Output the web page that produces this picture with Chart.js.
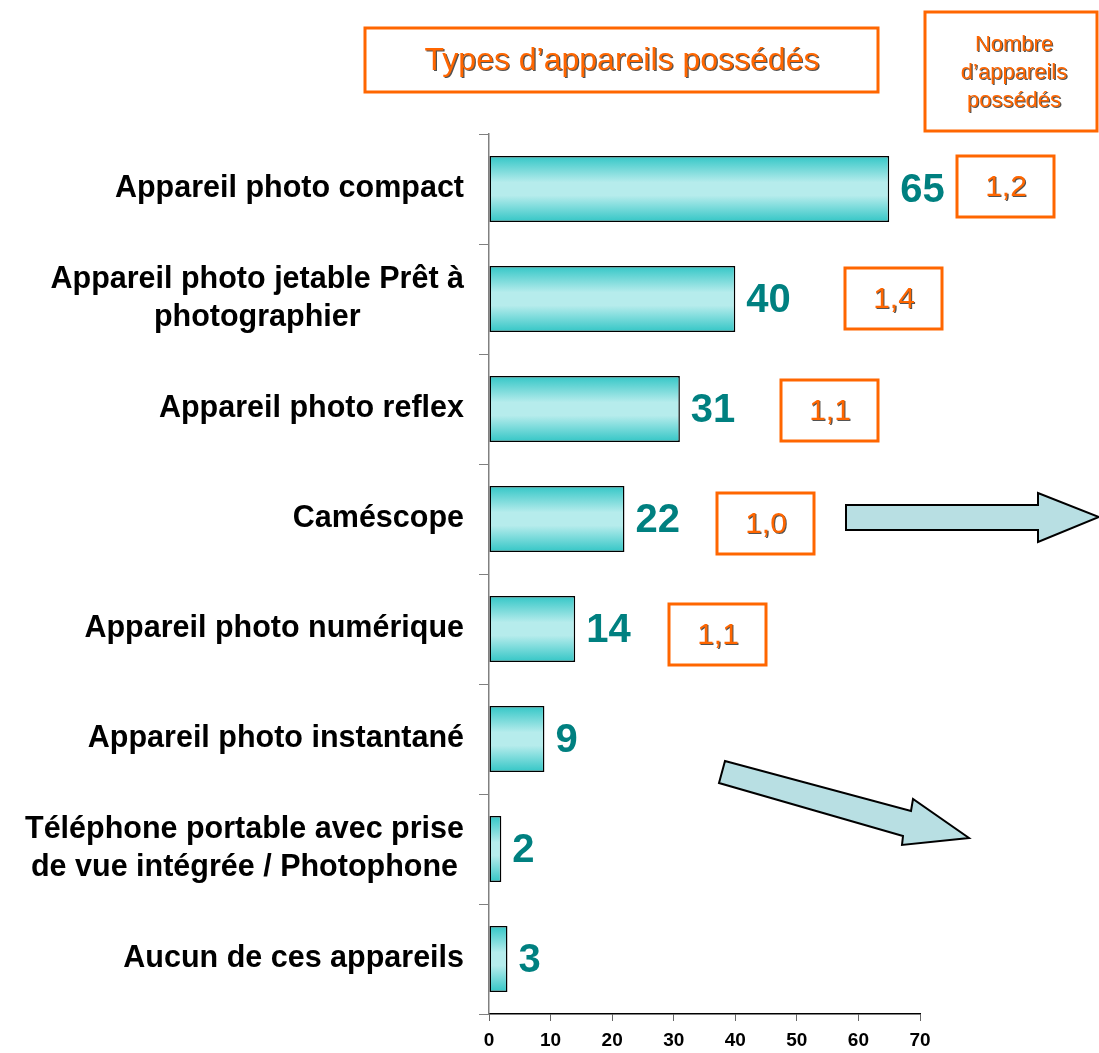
<!DOCTYPE html>
<html>
<head>
<meta charset="utf-8">
<script src="https://cdn.jsdelivr.net/npm/chart.js@4.4.1/dist/chart.umd.min.js"></script>
<style>
  html, body { margin: 0; padding: 0; background: #ffffff; }
  #wrap { width: 1099px; height: 1053px; position: relative; }
</style>
</head>
<body>
<div id="wrap"><canvas id="chart"></canvas></div>
<script>
const FONT = "'Liberation Sans', Arial, Helvetica, sans-serif";
const ORANGE = '#ff6600';

const categories = [
  'Appareil photo compact',
  ['Appareil photo jetable Prêt à', 'photographier'],
  'Appareil photo reflex',
  'Caméscope',
  'Appareil photo numérique',
  'Appareil photo instantané',
  ['Téléphone portable avec prise', 'de vue intégrée / Photophone'],
  'Aucun de ces appareils'
];
const ownedPercent = [65, 40, 31, 22, 14, 9, 2, 3];
const devicesOwned = [1.2, 1.4, 1.1, 1.0, 1.1];

const xTicks = [0, 10, 20, 30, 40, 50, 60, 70];
const titleText = 'Types d’appareils possédés';
const countTitle = ['Nombre', 'd’appareils', 'possédés'];

// where the orange count boxes sit (left, top), one per row above
const countBoxes = [[957, 156], [845, 268], [781, 380], [717, 493], [669, 604]];

function barGradient(context) {
  const chart = context.chart;
  const area = chart.chartArea;
  if (!area) return '#5fd3d3';
  const y = chart.scales.y.getPixelForValue(context.dataIndex);
  const half = (area.height / categories.length) * 0.6 / 2;
  const g = chart.ctx.createLinearGradient(0, y - half, 0, y + half);
  g.addColorStop(0, '#33c6c6');
  g.addColorStop(0.4, '#b6ecec');
  g.addColorStop(0.6, '#b6ecec');
  g.addColorStop(1, '#33c6c6');
  return g;
}

function shadowText(ctx, text, x, y) {
  ctx.save();
  ctx.fillStyle = 'rgba(40,40,40,0.8)';
  ctx.fillText(text, x + 1.2, y + 1.2);
  ctx.restore();
  ctx.fillText(text, x, y);
}

function orangeBox(ctx, x, y, w, h) {
  ctx.save();
  ctx.strokeStyle = ORANGE;
  ctx.lineWidth = 3;
  ctx.strokeRect(x, y, w, h);
  ctx.restore();
}

function arrow(ctx, pts) {
  ctx.save();
  ctx.beginPath();
  pts.forEach((p, i) => i ? ctx.lineTo(p[0], p[1]) : ctx.moveTo(p[0], p[1]));
  ctx.closePath();
  ctx.fillStyle = '#b8dfe3';
  ctx.fill();
  ctx.strokeStyle = '#000000';
  ctx.lineWidth = 2;
  ctx.lineJoin = 'miter';
  ctx.stroke();
  ctx.restore();
}

// category labels: block right-aligned to the axis, lines centred inside it
const categoryLabels = {
  id: 'categoryLabels',
  afterDraw(chart) {
    const ctx = chart.ctx;
    const yScale = chart.scales.y;
    const right = yScale.right - 25;
    const lineH = 38;
    ctx.save();
    ctx.font = 'bold 30.5px ' + FONT;
    ctx.fillStyle = '#000000';
    ctx.textAlign = 'center';
    ctx.textBaseline = 'middle';
    categories.forEach((label, i) => {
      const lines = Array.isArray(label) ? label : [label];
      const w = Math.max(...lines.map(l => ctx.measureText(l).width));
      const cx = right - w / 2;
      const cy = yScale.getPixelForValue(i) - (lines.length - 1) * lineH / 2;
      lines.forEach((l, j) => ctx.fillText(l, cx, cy + j * lineH));
    });
    ctx.restore();
  }
};

const valueLabels = {
  id: 'valueLabels',
  afterDatasetsDraw(chart) {
    const ctx = chart.ctx;
    const meta = chart.getDatasetMeta(0);
    ctx.save();
    ctx.font = 'bold 40px ' + FONT;
    ctx.fillStyle = '#008080';
    ctx.textAlign = 'left';
    ctx.textBaseline = 'middle';
    meta.data.forEach((bar, i) => {
      ctx.fillText(String(ownedPercent[i]), bar.x + 11, bar.y + 2);
    });
    ctx.restore();
  }
};

const annotations = {
  id: 'annotations',
  afterDraw(chart) {
    const ctx = chart.ctx;
    ctx.save();
    ctx.fillStyle = ORANGE;
    ctx.textAlign = 'center';
    ctx.textBaseline = 'middle';

    // title box
    orangeBox(ctx, 365, 28, 513, 64);
    ctx.font = '32px ' + FONT;
    shadowText(ctx, titleText, 622, 61);

    // count header box
    orangeBox(ctx, 925, 12, 172, 119);
    ctx.font = '22px ' + FONT;
    countTitle.forEach((t, i) => shadowText(ctx, t, 1014, 45 + i * 28));

    // count boxes
    ctx.font = '30px ' + FONT;
    devicesOwned.forEach((v, i) => {
      const [bx, by] = countBoxes[i];
      orangeBox(ctx, bx, by, 97, 61);
      shadowText(ctx, v.toFixed(1).replace('.', ','), bx + 49, by + 32);
    });

    // arrows
    arrow(ctx, [[846, 505], [1038, 505], [1038, 493], [1099, 517], [1038, 542], [1038, 530], [846, 530]]);
    arrow(ctx, [[725, 761], [911, 811], [913, 799], [969, 838], [902, 845], [903, 836], [719, 783]]);
    ctx.restore();
  }
};

new Chart(document.getElementById('chart'), {
  type: 'bar',
  data: {
    labels: categories,
    datasets: [{
      data: ownedPercent,
      backgroundColor: barGradient,
      borderColor: '#000000',
      borderWidth: 1.5,
      borderSkipped: false,
      categoryPercentage: 1,
      barPercentage: 0.6
    }]
  },
  options: {
    indexAxis: 'y',
    responsive: true,
    maintainAspectRatio: false,
    animation: false,
    layout: { padding: { top: 134, right: 179, left: 0, bottom: 0 } },
    plugins: {
      legend: { display: false },
      tooltip: { enabled: false }
    },
    scales: {
      x: {
        min: 0,
        max: 70,
        afterFit: scale => { scale.height = 39; },
        afterBuildTicks: scale => { scale.ticks = xTicks.map(v => ({ value: v })); },
        border: { color: '#000000', width: 1.5 },
        grid: { drawOnChartArea: false, drawTicks: true, tickLength: 7, color: '#666666' },
        ticks: {
          color: '#000000',
          padding: 8,
          font: { family: FONT, size: 19, weight: 'bold' }
        }
      },
      y: {
        afterFit: scale => { scale.width = 489; },
        border: { color: '#808080', width: 1.5 },
        grid: { drawOnChartArea: false, drawTicks: true, tickLength: 10, color: '#808080', offset: true },
        ticks: {
          display: false
        }
      }
    }
  },
  plugins: [categoryLabels, valueLabels, annotations]
});
</script>
</body>
</html>
